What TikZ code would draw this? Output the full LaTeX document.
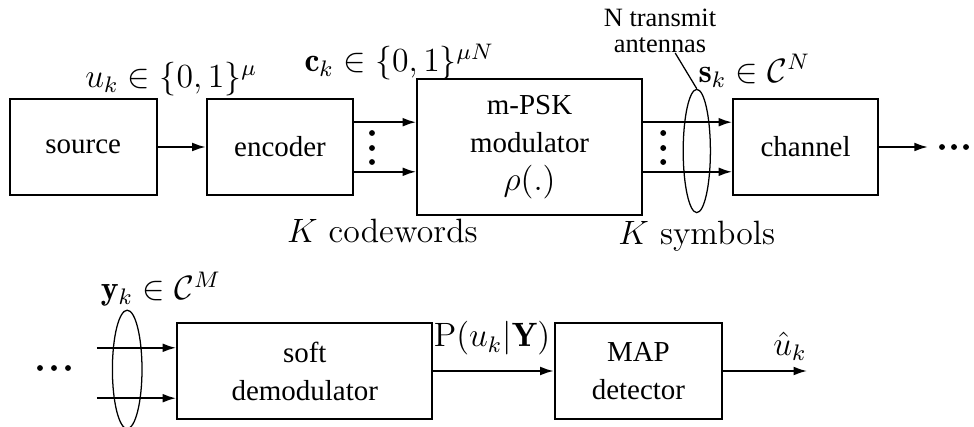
\documentclass[tikz,border=0pt]{standalone}
\usepackage{fontspec}
\usetikzlibrary{arrows.meta,shapes.geometric}
\newfontfamily\tms{Liberation Serif}
\begin{document}
\begin{tikzpicture}[>={Latex[length=1.7mm,width=1.1mm]},
          blk/.style={draw, line width=0.7pt, align=center, font=\tms\fontsize{10.3}{13.5}\selectfont, inner sep=2pt},
          sig/.style={->, line width=0.7pt},
          ant/.style={draw, ellipse, line width=0.45pt, inner sep=0pt},
          lbl/.style={font=\large, anchor=base, inner sep=0pt}]
        \useasboundingbox (0,0) rectangle (12.175,5.3375);
        % transmitter
        \node[blk, minimum width=1.84cm, minimum height=1.21cm] (src) at (1.04,3.5) {source};
        \node[blk, minimum width=1.83cm, minimum height=1.21cm] (enc) at (3.5,3.5) {encoder};
        \node[blk, minimum width=2.81cm, minimum height=1.71cm] (mod) at (6.62,3.5) {m-PSK\\modulator\\\large$\rho(.)$};
        \node[blk, minimum width=1.81cm, minimum height=1.2cm] (chan) at (10.07,3.5) {channel};
        \node[ant, minimum width=0.34cm, minimum height=1.54cm] (antT) at (8.71,3.45) {};
        \node[font=\tms\fontsize{9.4}{9.2}\selectfont, align=center, inner sep=0pt, anchor=south] (antTxt) at (8.25,4.675) {N transmit\\antennas};
        \node[lbl] (lblU) at (2.14,4.24) {$u_k\in\{0,1\}^\mu$};
        \node[lbl] (lblC) at (4.99,4.44) {$\mathbf{c}_k\in\{0,1\}^{\mu N}$};
        \node[lbl] (lblS) at (9.43,4.31) {$\mathbf{s}_k\in\mathcal{C}^N$};
        \node[lbl] (lblKc) at (4.78,2.31) {$K$ codewords};
        \node[lbl] (lblKs) at (8.71,2.28) {$K$ symbols};
        \coordinate (txOut) at (11.6,3.5);
        \draw[sig] (src) -- (enc);
        \draw[sig] ([yshift=3.1mm]enc.east) -- ([yshift=3.1mm]mod.west);
        \draw[sig] ([yshift=-3.1mm]enc.east) -- ([yshift=-3.1mm]mod.west);
        \draw[sig] ([yshift=3.1mm]mod.east) -- ([yshift=3.1mm]chan.west);
        \draw[sig] ([yshift=-3.1mm]mod.east) -- ([yshift=-3.1mm]chan.west);
        \draw[sig] (chan) -- (txOut);
        \draw[line width=0.45pt] ([xshift=1.9mm]antTxt.south) -- (antT.north);
        \fill (4.65,3.675) circle (1.05pt) (4.65,3.4875) circle (1.05pt) (4.65,3.3125) circle (1.05pt);
        \fill (8.29,3.675) circle (1.05pt) (8.29,3.4875) circle (1.05pt) (8.29,3.3125) circle (1.05pt);
        \fill (11.775,3.5) circle (1.05pt) (11.925,3.5) circle (1.05pt) (12.075,3.5) circle (1.05pt);
        % receiver
        \node[blk, minimum width=3.19cm, minimum height=1.21cm] (soft) at (3.81,0.7) {soft\\demodulator};
        \node[blk, minimum width=2.09cm, minimum height=1.21cm] (map) at (7.98,0.7) {MAP\\detector};
        \node[ant, minimum width=0.37cm, minimum height=1.48cm] (antB) at (1.59,0.72) {};
        \node[lbl] (lblY) at (2.01,1.59) {$\mathbf{y}_k\in\mathcal{C}^M$};
        \node[lbl] (lblP) at (6.15,1.0) {$\mathrm{P}(u_k|\mathbf{Y})$};
        \node[lbl] (lblUh) at (9.875,0.89) {$\hat{u}_k$};
        \coordinate (rxInA) at (1.21,0.99);
        \coordinate (rxInB) at (1.21,0.36);
        \coordinate (rxOut) at (10.09,0.7);
        \draw[sig] (rxInA) -- (rxInA -| soft.west);
        \draw[sig] (rxInB) -- (rxInB -| soft.west);
        \draw[sig] (soft) -- (map);
        \draw[sig] (map) -- (rxOut);
        \fill (0.5,0.7375) circle (1.05pt) (0.675,0.7375) circle (1.05pt) (0.85,0.7375) circle (1.05pt);
      \end{tikzpicture}
\end{document}
